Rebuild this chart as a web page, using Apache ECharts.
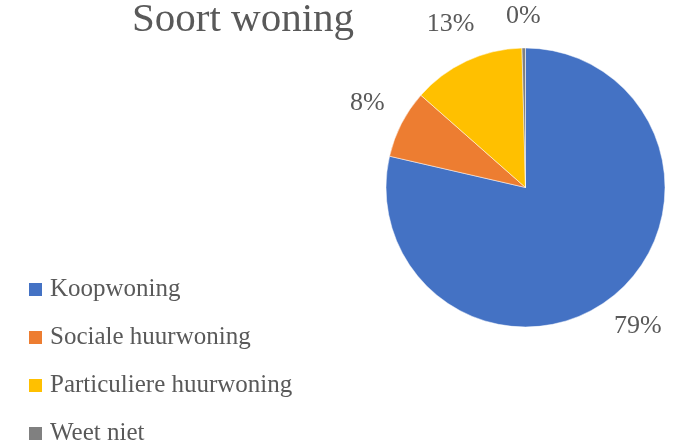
<!DOCTYPE html>
<html>
<head>
<meta charset="utf-8">
<script src="https://cdn.jsdelivr.net/npm/echarts@6/dist/echarts.min.js"></script>
<style>html,body{margin:0;padding:0;background:#fff}#c{width:696px;height:446px}</style>
</head>
<body>
<div id="c"></div>
<script>
const categories = ["Koopwoning", "Sociale huurwoning", "Particuliere huurwoning", "Weet niet"];
const values = [78.6, 7.9, 13.1, 0.4];
const colors = ["#4472C4", "#ED7D31", "#FFC000", "#808080"];
const titleText = "Soort woning";

const font = '"Liberation Serif", "DejaVu Serif", serif';
const CX = 525.5, CY = 187.5, R = 139.5;
const chart = echarts.init(document.getElementById('c'), null, {renderer: 'canvas'});
chart.setOption({
  animation: false,
  backgroundColor: '#fff',
  color: colors,
  title: {
    text: titleText,
    left: 127, top: -5,
    textStyle: {fontFamily: font, fontSize: 41, fontWeight: 'normal', color: '#595959'}
  },
  legend: {
    orient: 'vertical',
    left: 22, top: 272, height: 200,
    icon: 'rect',
    itemWidth: 15, itemHeight: 15, itemGap: 23,
    data: categories,
    textStyle: {fontFamily: font, fontSize: 25, color: '#595959', padding: [0, 0, 0, 2]}
  },
  series: [{
    type: 'pie',
    center: [CX, CY],
    radius: R,
    startAngle: 90,
    clockwise: true,
    avoidLabelOverlap: false,
    itemStyle: {borderColor: '#fff', borderWidth: 0.5},
    label: {
      show: true,
      position: 'outer',
      alignTo: 'none',
      fontFamily: font, fontSize: 26, color: '#595959',
      formatter: p => Math.round(p.percent) + '%'
    },
    labelLine: {show: false, length: 14, length2: 4},
    labelLayout: function (p) {
      const pts = p.labelLinePoints;
      if (!pts) return {};
      const dx = pts[0][0] - CX, dy = pts[0][1] - CY;
      const d = Math.sqrt(dx * dx + dy * dy) || 1;
      const ux = dx / d, uy = dy / d;
      const w = p.labelRect.width, h = p.labelRect.height;
      const k = R + 18 + Math.abs(ux) * w / 2 + Math.abs(uy) * h * 0.4;
      return {x: CX + ux * k, y: CY + uy * k - 3, align: 'center', verticalAlign: 'middle'};
    },
    data: categories.map((c, i) => ({name: c, value: values[i]}))
  }]
});
</script>
</body>
</html>
